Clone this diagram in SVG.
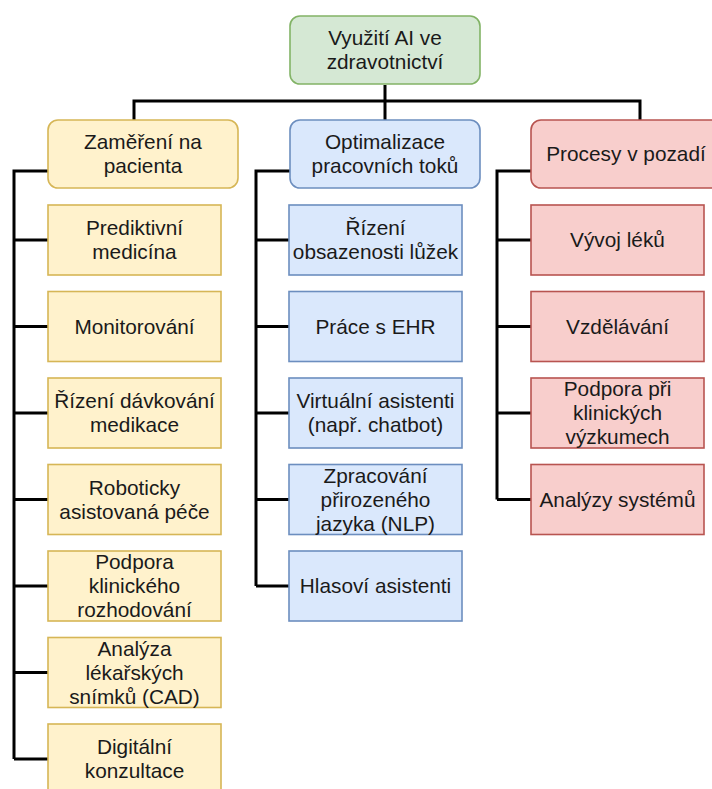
<svg xmlns="http://www.w3.org/2000/svg" width="712" height="789" viewBox="0 0 712 789">
  <style>
    text { font-family: "Liberation Sans", Arial, sans-serif; font-size: 20.8px; fill: #1a1a1a; text-anchor: middle; }
    .box { stroke-width: 1.6; }
    .green { fill: #d5e8d4; stroke: #82b366; }
    .yellow { fill: #fff2cc; stroke: #d6b656; }
    .blue { fill: #dae8fc; stroke: #6c8ebf; }
    .red { fill: #f8cecc; stroke: #b85450; }
    .edge { fill: none; stroke: #000; stroke-width: 3; stroke-linejoin: miter; }
  </style>
  <rect width="712" height="789" fill="#ffffff"/>

  <!-- connectors -->
  <g id="connectors">
    <path class="edge" d="M385 85 V101 M134 120 V101 H640 V120 M385 101 V120"/>
    <path class="edge" d="M48 171 H14 V759 M14 240 H48 M14 326.5 H48 M14 413 H48 M14 499.5 H48 M14 586 H48 M14 672.5 H48 M14 759 H48"/>
    <path class="edge" d="M290 171 H256 V586 M256 240 H289 M256 326.5 H289 M256 413 H289 M256 499.5 H289 M256 586 H289"/>
    <path class="edge" d="M531 171 H497 V499.5 M497 240 H531 M497 326.5 H531 M497 413 H531 M497 499.5 H531"/>
  </g>

  <!-- root -->
  <g id="root">
    <rect class="box green" x="290" y="16" width="190" height="68" rx="10"/>
    <text x="385" y="45">Využití AI ve</text>
    <text x="385" y="69">zdravotnictví</text>
  </g>

  <!-- level 1 -->
  <g id="patient">
    <rect class="box yellow" x="48" y="120" width="190" height="68" rx="10"/>
    <text x="143" y="149">Zaměření na</text>
    <text x="143" y="173">pacienta</text>
  </g>
  <g id="workflow">
    <rect class="box blue" x="290" y="120" width="190" height="68" rx="10"/>
    <text x="385" y="149">Optimalizace</text>
    <text x="385" y="173">pracovních toků</text>
  </g>
  <g id="background">
    <rect class="box red" x="531" y="120" width="190" height="68" rx="10"/>
    <text x="626" y="161">Procesy v pozadí</text>
  </g>

  <!-- patient-focused items -->
  <g id="p1">
    <rect class="box yellow" x="48" y="205" width="173" height="70"/>
    <text x="134.5" y="235">Prediktivní</text>
    <text x="134.5" y="259">medicína</text>
  </g>
  <g id="p2">
    <rect class="box yellow" x="48" y="291.5" width="173" height="70"/>
    <text x="134.5" y="333.5">Monitorování</text>
  </g>
  <g id="p3">
    <rect class="box yellow" x="48" y="378" width="173" height="70"/>
    <text x="134.5" y="408">Řízení dávkování</text>
    <text x="134.5" y="432">medikace</text>
  </g>
  <g id="p4">
    <rect class="box yellow" x="48" y="464.5" width="173" height="70"/>
    <text x="134.5" y="494.5">Roboticky</text>
    <text x="134.5" y="518.5">asistovaná péče</text>
  </g>
  <g id="p5">
    <rect class="box yellow" x="48" y="551" width="173" height="70"/>
    <text x="134.5" y="569">Podpora</text>
    <text x="134.5" y="593">klinického</text>
    <text x="134.5" y="617">rozhodování</text>
  </g>
  <g id="p6">
    <rect class="box yellow" x="48" y="637.5" width="173" height="70"/>
    <text x="134.5" y="655.5">Analýza</text>
    <text x="134.5" y="679.5">lékařských</text>
    <text x="134.5" y="703.5">snímků (CAD)</text>
  </g>
  <g id="p7">
    <rect class="box yellow" x="48" y="724" width="173" height="70"/>
    <text x="134.5" y="754">Digitální</text>
    <text x="134.5" y="778">konzultace</text>
  </g>

  <!-- workflow items -->
  <g id="w1">
    <rect class="box blue" x="289" y="205" width="173" height="70"/>
    <text x="375.5" y="235">Řízení</text>
    <text x="375.5" y="259">obsazenosti lůžek</text>
  </g>
  <g id="w2">
    <rect class="box blue" x="289" y="291.5" width="173" height="70"/>
    <text x="375.5" y="333.5">Práce s EHR</text>
  </g>
  <g id="w3">
    <rect class="box blue" x="289" y="378" width="173" height="70"/>
    <text x="375.5" y="408">Virtuální asistenti</text>
    <text x="375.5" y="432">(např. chatbot)</text>
  </g>
  <g id="w4">
    <rect class="box blue" x="289" y="464.5" width="173" height="70"/>
    <text x="375.5" y="482.5">Zpracování</text>
    <text x="375.5" y="506.5">přirozeného</text>
    <text x="375.5" y="530.5">jazyka (NLP)</text>
  </g>
  <g id="w5">
    <rect class="box blue" x="289" y="551" width="173" height="70"/>
    <text x="375.5" y="593">Hlasoví asistenti</text>
  </g>

  <!-- background items -->
  <g id="b1">
    <rect class="box red" x="531" y="205" width="173" height="70"/>
    <text x="617.5" y="247">Vývoj léků</text>
  </g>
  <g id="b2">
    <rect class="box red" x="531" y="291.5" width="173" height="70"/>
    <text x="617.5" y="333.5">Vzdělávání</text>
  </g>
  <g id="b3">
    <rect class="box red" x="531" y="378" width="173" height="70"/>
    <text x="617.5" y="396">Podpora při</text>
    <text x="617.5" y="420">klinických</text>
    <text x="617.5" y="444">výzkumech</text>
  </g>
  <g id="b4">
    <rect class="box red" x="531" y="464.5" width="173" height="70"/>
    <text x="617.5" y="506.5">Analýzy systémů</text>
  </g>
</svg>
